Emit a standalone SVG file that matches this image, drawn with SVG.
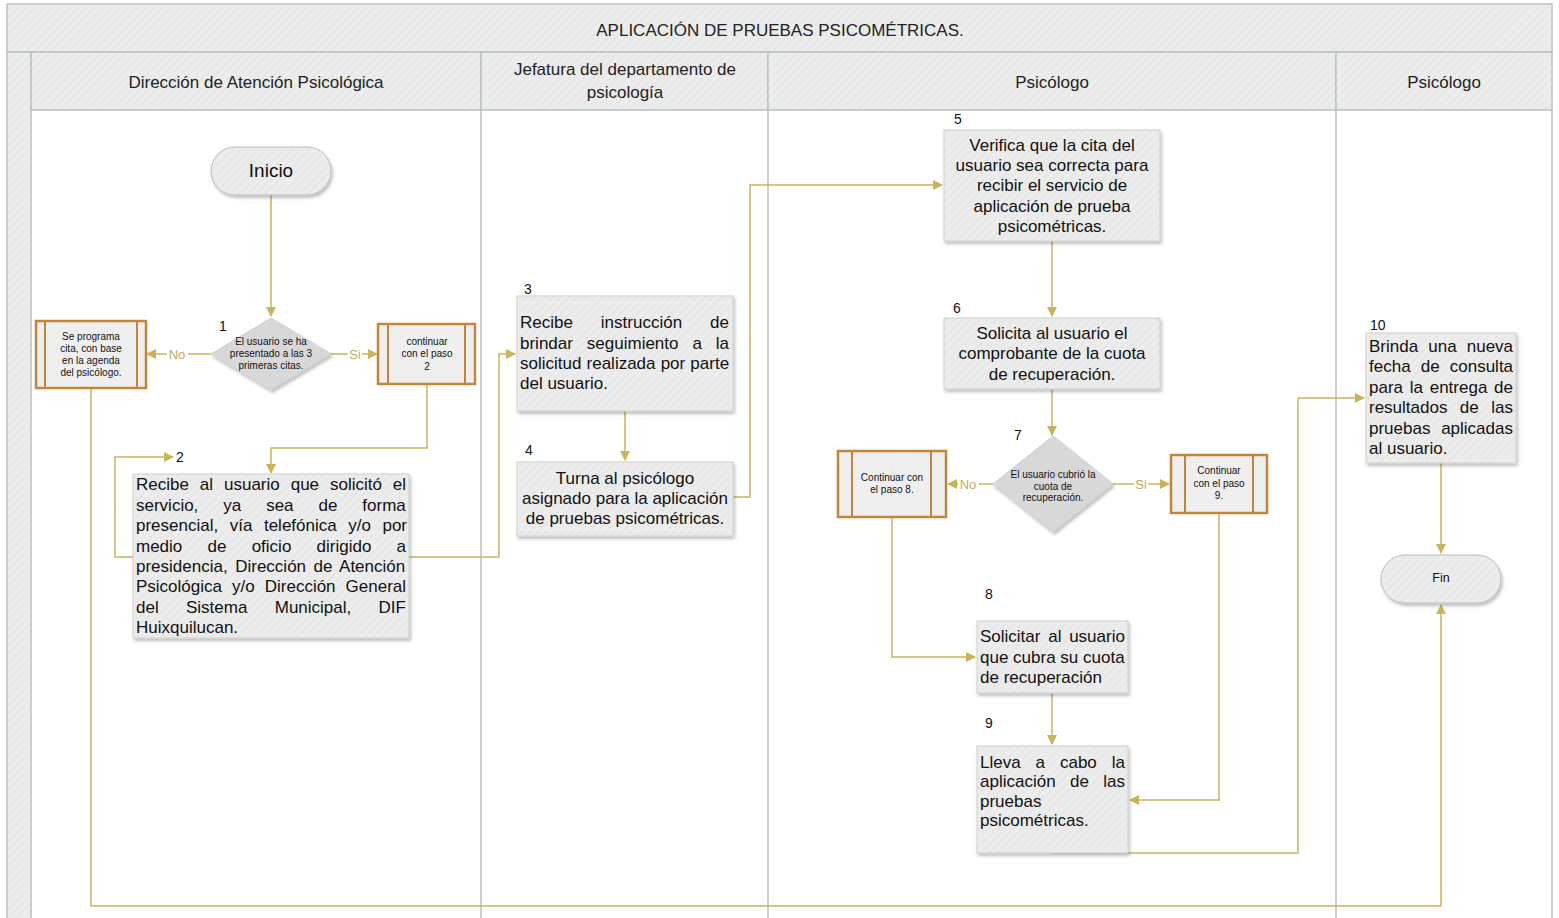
<svg xmlns="http://www.w3.org/2000/svg" width="1559" height="918" viewBox="0 0 1559 918">
<style>
.hdr{fill:url(#hatch);stroke:#b7c3c2;stroke-width:1.5}
.lane{stroke:#b7c3c2;stroke-width:1.5;fill:none}
.ht{font-family:"Liberation Sans",Arial,sans-serif;font-size:17px;fill:#222;text-anchor:middle}
.box{fill:url(#hatch);stroke:#cfcfc8;stroke-width:1;filter:url(#sh)}
.bt{font-family:"Liberation Sans",Arial,sans-serif;font-size:17px;fill:#111}
.c{text-anchor:middle}
.num{font-family:"Liberation Sans",Arial,sans-serif;font-size:14px;fill:#111}
.dia{fill:#d8d8d8;stroke:#cfcfcf;stroke-width:1;filter:url(#sh)}
.st{font-family:"Liberation Sans",Arial,sans-serif;font-size:10px;fill:#111;text-anchor:middle}
.pp{fill:#efefef;stroke:#c4853a;stroke-width:2.5}
.ppl{stroke:#c4853a;stroke-width:2}
.term{fill:url(#hatch);stroke:#bdbdbd;stroke-width:1;filter:url(#sh)}
.con{fill:none;stroke:#c9b45c;stroke-width:1.5}
.lbl{font-family:"Liberation Sans",Arial,sans-serif;font-size:13px;fill:#c9a85c;text-anchor:middle}
</style>
<defs>
<pattern id="hatch" width="6" height="6" patternUnits="userSpaceOnUse" patternTransform="rotate(45)">
<rect width="6" height="6" fill="#ececec"/>
<line x1="0" y1="0" x2="0" y2="6" stroke="#e4e4e4" stroke-width="2"/>
</pattern>
<filter id="sh" x="-10%" y="-10%" width="125%" height="130%">
<feDropShadow dx="1.5" dy="2.5" stdDeviation="1.5" flood-color="#000" flood-opacity="0.25"/>
</filter>
<marker id="ar" markerWidth="10" markerHeight="10" refX="9" refY="5" orient="auto" markerUnits="userSpaceOnUse">
<path d="M0,0 L10,5 L0,10 Z" fill="#c9b45c"/>
</marker>
</defs>
<rect x="0" y="0" width="1559" height="918" fill="#ffffff"/>
<g id="pool">
<rect class="hdr" x="7" y="4" width="1545" height="48"/>
<text class="ht" x="780" y="36">APLICACIÓN DE PRUEBAS PSICOMÉTRICAS.</text>
<rect class="hdr" x="7" y="52" width="24" height="870"/>
<rect class="hdr" x="31" y="52" width="450" height="58"/>
<rect class="hdr" x="481" y="52" width="287" height="58"/>
<rect class="hdr" x="768" y="52" width="568" height="58"/>
<rect class="hdr" x="1336" y="52" width="216" height="58"/>
<text class="ht" x="256" y="88">Dirección de Atención Psicológica</text>
<text class="ht" x="625" y="75">Jefatura del departamento de</text>
<text class="ht" x="625" y="98">psicología</text>
<text class="ht" x="1052" y="88">Psicólogo</text>
<text class="ht" x="1444" y="88">Psicólogo</text>
<line class="lane" x1="481" y1="110" x2="481" y2="918"/>
<line class="lane" x1="768" y1="110" x2="768" y2="918"/>
<line class="lane" x1="1336" y1="110" x2="1336" y2="918"/>
<line class="lane" x1="1552" y1="110" x2="1552" y2="918"/>
</g>
<g id="connectors">
<path class="con" d="M271,195 V316" marker-end="url(#ar)"/>
<path class="con" d="M211,354 H147" marker-end="url(#ar)"/>
<path class="con" d="M331,354 H377" marker-end="url(#ar)"/>
<path class="con" d="M427,384 V448 H271 V473" marker-end="url(#ar)"/>
<path class="con" d="M133,557 H115 V457 H173" marker-end="url(#ar)"/>
<path class="con" d="M409,557 H499 V354 H515" marker-end="url(#ar)"/>
<path class="con" d="M625,411 V460" marker-end="url(#ar)"/>
<path class="con" d="M733,497 H750 V185 H942" marker-end="url(#ar)"/>
<path class="con" d="M1052,241 V316" marker-end="url(#ar)"/>
<path class="con" d="M1052,389 V435" marker-end="url(#ar)"/>
<path class="con" d="M993,484 H948" marker-end="url(#ar)"/>
<path class="con" d="M1113,484 H1169" marker-end="url(#ar)"/>
<path class="con" d="M892,517 V657 H975" marker-end="url(#ar)"/>
<path class="con" d="M1052,693 V744" marker-end="url(#ar)"/>
<path class="con" d="M1219,513 V800 H1130" marker-end="url(#ar)"/>
<path class="con" d="M1052,853 H1298 V398 H1364" marker-end="url(#ar)"/>
<path class="con" d="M1441,463 V553" marker-end="url(#ar)"/>
<path class="con" d="M91,388 V906 H1441 V605" marker-end="url(#ar)"/>
<rect x="167" y="346" width="21" height="15" fill="#fff"/>
<text class="lbl" x="177" y="359">No</text>
<rect x="348" y="346" width="14" height="15" fill="#fff"/>
<text class="lbl" x="355" y="359">Si</text>
<rect x="958" y="476" width="21" height="15" fill="#fff"/>
<text class="lbl" x="968" y="489">No</text>
<rect x="1134" y="476" width="14" height="15" fill="#fff"/>
<text class="lbl" x="1141" y="489">Si</text>
</g>
<g id="inicio">
<rect class="term" x="211" y="147" width="120" height="48" rx="24"/>
<text class="bt c" x="271" y="177" style="font-size:19px">Inicio</text>
</g>
<g id="d1">
<polygon class="dia" points="271,318 331,354 271,390 211,354"/>
<text class="num" x="219" y="331">1</text>
<text class="st" x="271" y="345">El usuario se ha</text>
<text class="st" x="271" y="357">presentado a las 3</text>
<text class="st" x="271" y="369">primeras citas.</text>
</g>
<g id="p-no1">
<rect class="pp" x="36" y="321" width="110" height="67"/>
<line class="ppl" x1="45" y1="321" x2="45" y2="388"/>
<line class="ppl" x1="137" y1="321" x2="137" y2="388"/>
<text class="st" x="91" y="340">Se programa</text>
<text class="st" x="91" y="352">cita, con base</text>
<text class="st" x="91" y="364">en la agenda</text>
<text class="st" x="91" y="376">del psicólogo.</text>
</g>
<g id="p-si1">
<rect class="pp" x="378" y="324" width="97" height="60"/>
<line class="ppl" x1="388" y1="324" x2="388" y2="384"/>
<line class="ppl" x1="465" y1="324" x2="465" y2="384"/>
<text class="st" x="427" y="345">continuar</text>
<text class="st" x="427" y="357">con el paso</text>
<text class="st" x="427" y="370">2</text>
</g>
<g id="s2">
<rect class="box" x="133" y="474" width="276" height="164"/>
<text class="num" x="176" y="462">2</text>
<text class="bt" x="136" y="490" word-spacing="6.2">Recibe al usuario que solicitó el</text>
<text class="bt" x="136" y="511" word-spacing="20.2">servicio, ya sea de forma</text>
<text class="bt" x="136" y="531" word-spacing="6.8">presencial, vía telefónica y/o por</text>
<text class="bt" x="136" y="552" word-spacing="20.5">medio de oficio dirigido a</text>
<text class="bt" x="136" y="572" word-spacing="2.8">presidencia, Dirección de Atención</text>
<text class="bt" x="136" y="592" word-spacing="5.3">Psicológica y/o Dirección General</text>
<text class="bt" x="136" y="613" word-spacing="22.6">del Sistema Municipal, DIF</text>
<text class="bt" x="136" y="633">Huixquilucan.</text>
</g>
<g id="s3">
<rect class="box" x="517" y="296" width="216" height="115"/>
<text class="num" x="524" y="294">3</text>
<text class="bt" x="520" y="328" word-spacing="23.2">Recibe instrucción de</text>
<text class="bt" x="520" y="349" word-spacing="9.2">brindar seguimiento a la</text>
<text class="bt" x="520" y="369" word-spacing="0.4">solicitud realizada por parte</text>
<text class="bt" x="520" y="389">del usuario.</text>
</g>
<g id="s4">
<rect class="box" x="517" y="462" width="216" height="74"/>
<text class="num" x="525" y="455">4</text>
<text class="bt c" x="625" y="484">Turna al psicólogo</text>
<text class="bt c" x="625" y="504">asignado para la aplicación</text>
<text class="bt c" x="625" y="524">de pruebas psicométricas.</text>
</g>
<g id="s5">
<rect class="box" x="944" y="130" width="216" height="111"/>
<text class="num" x="954" y="124">5</text>
<text class="bt c" x="1052" y="151">Verifica que la cita del</text>
<text class="bt c" x="1052" y="171">usuario sea correcta para</text>
<text class="bt c" x="1052" y="191">recibir el servicio de</text>
<text class="bt c" x="1052" y="212">aplicación de prueba</text>
<text class="bt c" x="1052" y="232">psicométricas.</text>
</g>
<g id="s6">
<rect class="box" x="944" y="318" width="216" height="71"/>
<text class="num" x="953" y="313">6</text>
<text class="bt c" x="1052" y="339">Solicita al usuario el</text>
<text class="bt c" x="1052" y="359">comprobante de la cuota</text>
<text class="bt c" x="1052" y="380">de recuperación.</text>
</g>
<g id="d7">
<polygon class="dia" points="1053,436 1113,484 1053,532 993,484"/>
<text class="num" x="1014" y="440">7</text>
<text class="st" x="1053" y="478">El usuario cubrió la</text>
<text class="st" x="1053" y="490">cuota de</text>
<text class="st" x="1053" y="501">recuperación.</text>
</g>
<g id="p-no7">
<rect class="pp" x="838" y="451" width="108" height="66"/>
<line class="ppl" x1="852" y1="451" x2="852" y2="517"/>
<line class="ppl" x1="931" y1="451" x2="931" y2="517"/>
<text class="st" x="892" y="481">Continuar con</text>
<text class="st" x="892" y="493">el paso 8.</text>
</g>
<g id="p-si7">
<rect class="pp" x="1171" y="455" width="96" height="58"/>
<line class="ppl" x1="1185" y1="455" x2="1185" y2="513"/>
<line class="ppl" x1="1253" y1="455" x2="1253" y2="513"/>
<text class="st" x="1219" y="474">Continuar</text>
<text class="st" x="1219" y="487">con el paso</text>
<text class="st" x="1219" y="499">9.</text>
</g>
<g id="s8">
<rect class="box" x="977" y="621" width="151" height="72"/>
<text class="num" x="985" y="599">8</text>
<text class="bt" x="980" y="642" word-spacing="3">Solicitar al usuario</text>
<text class="bt" x="980" y="663">que cubra su cuota</text>
<text class="bt" x="980" y="683">de recuperación</text>
</g>
<g id="s9">
<rect class="box" x="977" y="746" width="151" height="107"/>
<text class="num" x="985" y="728">9</text>
<text class="bt" x="980" y="768" word-spacing="10.2">Lleva a cabo la</text>
<text class="bt" x="980" y="787" word-spacing="9.6">aplicación de las</text>
<text class="bt" x="980" y="807">pruebas</text>
<text class="bt" x="980" y="826">psicométricas.</text>
</g>
<g id="s10">
<rect class="box" x="1366" y="333" width="150" height="130"/>
<text class="num" x="1370" y="330">10</text>
<text class="bt" x="1369" y="352" word-spacing="5.4">Brinda una nueva</text>
<text class="bt" x="1369" y="372" word-spacing="5.4">fecha de consulta</text>
<text class="bt" x="1369" y="393" word-spacing="2">para la entrega de</text>
<text class="bt" x="1369" y="413" word-spacing="7.7">resultados de las</text>
<text class="bt" x="1369" y="434" word-spacing="6">pruebas aplicadas</text>
<text class="bt" x="1369" y="454">al usuario.</text>
</g>
<g id="fin">
<rect class="term" x="1381" y="555" width="120" height="48" rx="24"/>
<text class="bt c" x="1441" y="582" style="font-size:12.5px">Fin</text>
</g>
</svg>
